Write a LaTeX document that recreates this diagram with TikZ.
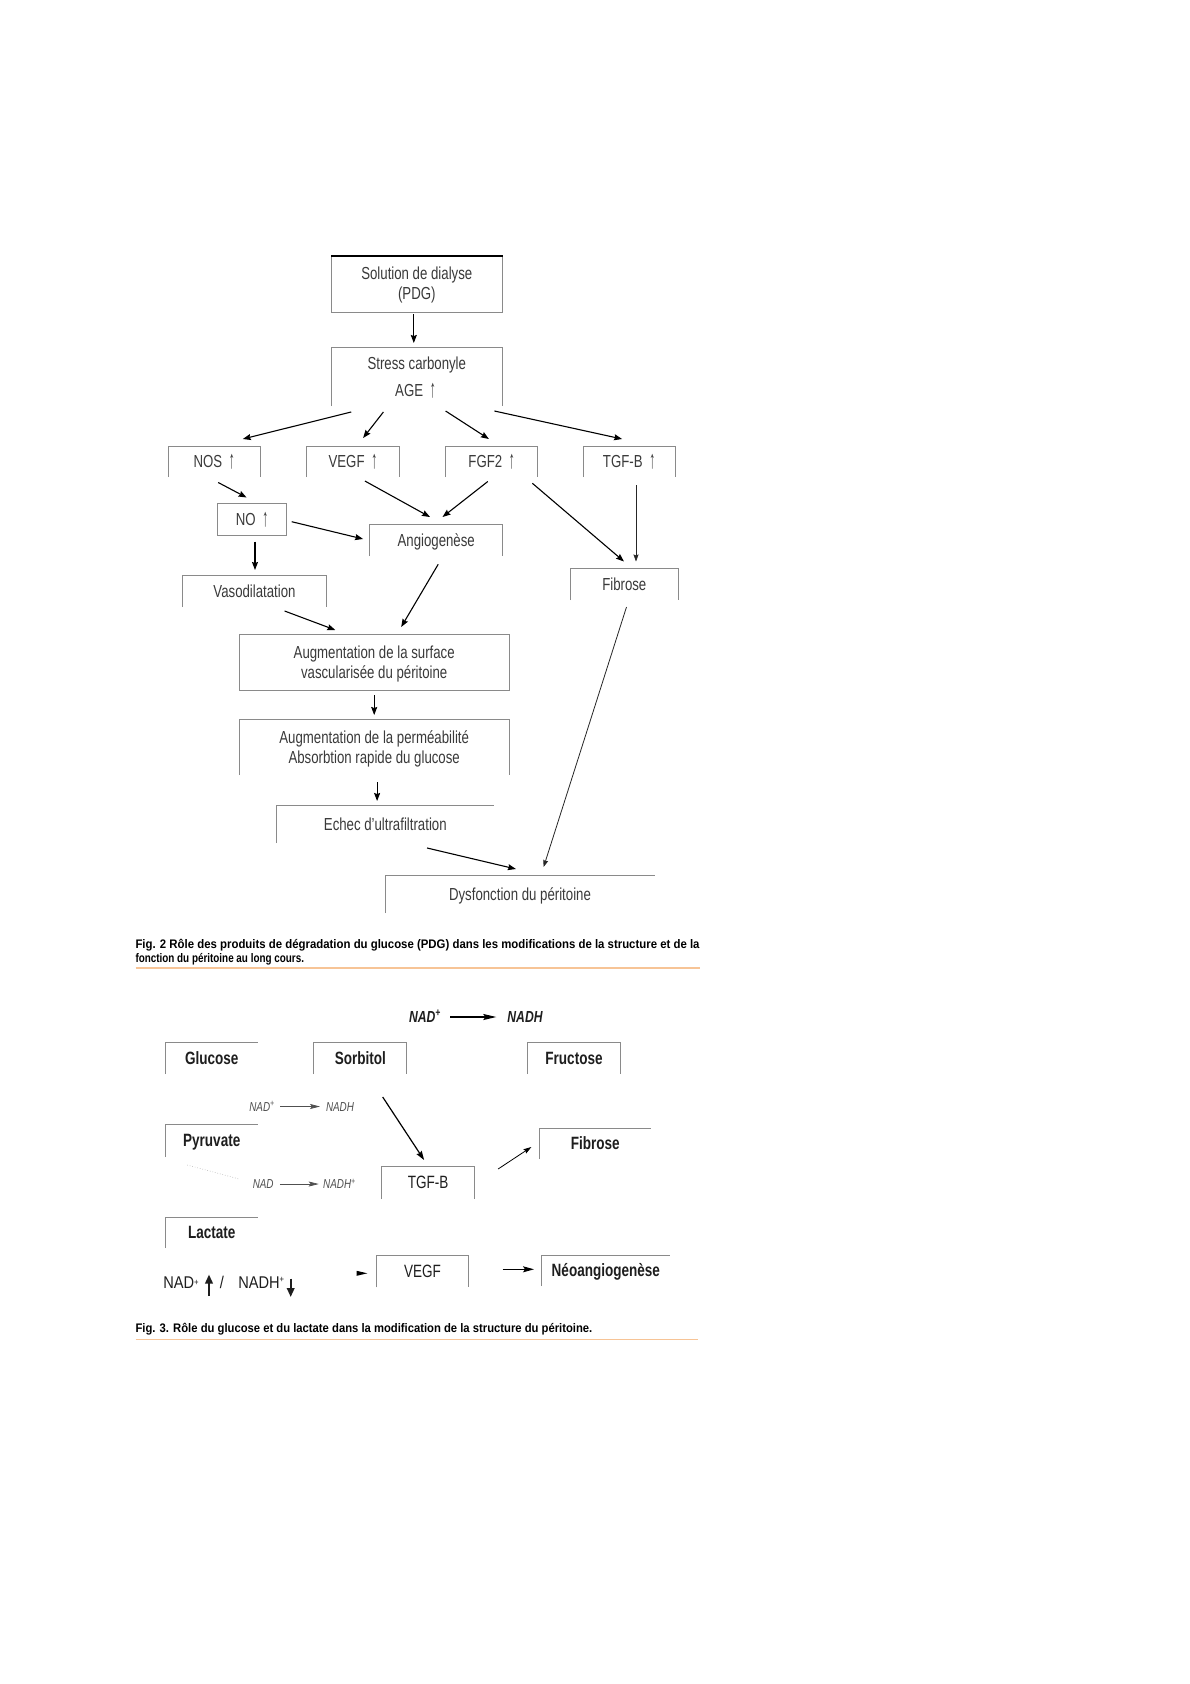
\documentclass[tikz,border=0pt]{standalone}
\usepackage{fontspec}
\setmainfont{Liberation Sans}[FakeStretch=0.76]
\newfontfamily\wideF{Liberation Sans}[FakeStretch=0.86]
\usepackage{graphicx}
\usetikzlibrary{arrows.meta}
\definecolor{txt}{HTML}{3A3A3A}
\definecolor{txtb}{HTML}{1E1E1E}
\definecolor{linegray}{HTML}{8A8A8A}
\definecolor{nadgray}{HTML}{505050}
\definecolor{capline}{RGB}{247,196,150}
\newcommand\labf{\fontsize{17.4}{20}\selectfont}
\newcommand\blabf{\fontsize{17.8}{20}\selectfont\bfseries}
\newcommand\rlabf{\fontsize{17.8}{20}\selectfont}
\newcommand\nadbig{\fontsize{16}{18}\selectfont\bfseries\itshape}
\newcommand\nadsm{\fontsize{13}{15}\selectfont\itshape}
\newcommand\capf{\fontsize{12.4}{14}\selectfont\bfseries}
\newcommand\up{\hspace{3pt}\raisebox{-1pt}{\scalebox{0.9}[1.45]{↑}}}
\newcommand\boxU[1]{\draw[boxline] (#1.south west) -- (#1.north west) -- (#1.north east) -- (#1.south east);}
\newcommand\boxL[1]{\draw[boxline] (#1.south west) -- (#1.north west) -- (#1.north east);}
\newcommand\boxF[1]{\draw[boxline] (#1.south west) rectangle (#1.north east);}
\tikzset{
  lab/.style={inner sep=0pt, outer sep=0pt, font=\labf, text=txt, text height=12pt, text depth=0pt},
  blab/.style={inner sep=0pt, outer sep=0pt, font=\blabf, text=txtb, text height=12.3pt, text depth=0pt},
  rlab/.style={inner sep=0pt, outer sep=0pt, font=\rlabf, text=txtb, text height=12.3pt, text depth=0pt},
  nadb/.style={inner sep=0pt, outer sep=0pt, font=\nadbig, text=txtb, text height=11pt, text depth=0pt},
  nads/.style={inner sep=0pt, outer sep=0pt, font=\nadsm, text=nadgray, text height=9pt, text depth=0pt},
  capn/.style={inner sep=0pt, outer sep=0pt, anchor=west, text=black, text height=8.6pt, text depth=0pt},
  boxline/.style={draw=linegray, line width=0.9pt},
  arr/.style={-{Stealth[length=8pt,width=6pt,inset=1pt]}, line width=1.1pt, black},
  arrthin/.style={-{Stealth[length=7pt,width=5pt,inset=1pt]}, line width=0.6pt, black!85},
  arrN/.style={-{Stealth[length=11pt,width=6pt,inset=2pt]}, line width=1pt, black},
  arrS/.style={-{Stealth[length=10pt,width=5pt,inset=2pt]}, line width=0.7pt, nadgray},
  bigarr/.style={-{Triangle[length=9pt,width=7.5pt]}, line width=2pt, txtb},
}
\begin{document}
\begin{tikzpicture}[x=1pt,y=-1pt]
\useasboundingbox (0,0) rectangle (1190,1684);
\fill[white] (0,0) rectangle (1190,1684);

% ---------------- Fig. 2 ----------------
\node[lab, minimum width=171.6pt, minimum height=56pt] (sol) at (416.8,284) {};
\node[lab] (solA) at (416.8,273) {Solution de dialyse};
\node[lab] (solB) at (416.8,293) {(PDG)};
\boxF{sol}
\draw[line width=1.6pt, black] (sol.north west) -- (sol.north east);

\node[lab, minimum width=171.6pt, minimum height=59pt] (stress) at (416.8,376.5) {};
\node[lab] (stressA) at (416.8,363) {Stress carbonyle};
\node[lab] (stressB) at (415.5,390) {AGE \up};
\boxU{stress}

\node[lab, minimum width=92.1pt, minimum height=31pt] (nos) at (214.2,461.5) {NOS \up};
\node[lab, minimum width=92.2pt, minimum height=31pt] (vegf) at (352.9,461.5) {VEGF \up};
\node[lab, minimum width=92.1pt, minimum height=31pt] (fgf) at (491.7,461.5) {FGF2 \up};
\node[lab, minimum width=91.8pt, minimum height=31pt] (tgf) at (629.1,461.5) {TGF-B \up};
\boxU{nos}\boxU{vegf}\boxU{fgf}\boxU{tgf}

\node[lab, minimum width=69pt, minimum height=32pt] (no) at (252,519.5) {NO \up};
\boxF{no}
\node[lab, minimum width=132.9pt, minimum height=32pt] (angio) at (436.2,540) {Angiogenèse};
\boxU{angio}
\node[lab, minimum width=143.2pt, minimum height=32pt] (vaso) at (254.5,591) {Vasodilatation};
\boxU{vaso}
\node[lab, minimum width=108pt, minimum height=32pt] (fib) at (624.3,584) {Fibrose};
\boxU{fib}

\node[lab, minimum width=270.1pt, minimum height=56pt] (aug1) at (374.2,662) {};
\node[lab] (aug1A) at (374.2,652) {Augmentation de la surface};
\node[lab] (aug1B) at (374.2,672) {vascularisée du péritoine};
\boxF{aug1}
\node[lab, minimum width=270.1pt, minimum height=56pt] (aug2) at (374.2,747) {};
\node[lab] (aug2A) at (374.2,737) {Augmentation de la perméabilité};
\node[lab] (aug2B) at (374.2,757) {Absorbtion rapide du glucose};
\boxU{aug2}
\node[lab, minimum width=216.8pt, minimum height=38pt] (echec) at (385.3,824) {Echec d’ultrafiltration};
\boxL{echec}
\node[lab, minimum width=269.3pt, minimum height=38pt] (dysf) at (520,894) {Dysfonction du péritoine};
\boxL{dysf}

% arrow end points
\coordinate (a1s) at (413.8,314);   \coordinate (a1e) at (413.8,343);
\coordinate (a2s) at (351.2,412);   \coordinate (a2e) at (242.8,439);
\coordinate (a3s) at (383.4,412);   \coordinate (a3e) at (363.1,438);
\coordinate (a4s) at (445.6,411);   \coordinate (a4e) at (488.9,439);
\coordinate (a5s) at (494.4,411);   \coordinate (a5e) at (622.1,439);
\coordinate (a6s) at (218.2,482.5); \coordinate (a6e) at (246.6,497.5);
\coordinate (a7s) at (291.7,521.7); \coordinate (a7e) at (363.1,539);
\coordinate (a8s) at (364.9,481);   \coordinate (a8e) at (430,517);
\coordinate (a9s) at (487.8,481.5); \coordinate (a9e) at (442.5,517);
\coordinate (a10s) at (532.4,483.3);\coordinate (a10e) at (624,561.5);
\coordinate (a11s) at (636,485);    \coordinate (a11e) at (636,561.5);
\coordinate (a12s) at (255,541.7);  \coordinate (a12e) at (255,570);
\coordinate (a13s) at (438.2,564.3);\coordinate (a13e) at (401.2,627);
\coordinate (a14s) at (284.6,611);  \coordinate (a14e) at (335.3,630);
\coordinate (a15s) at (374.2,695);  \coordinate (a15e) at (374.2,715);
\coordinate (a16s) at (377.1,782);  \coordinate (a16e) at (377.1,801);
\coordinate (a17s) at (427.1,848);  \coordinate (a17e) at (515.9,869);
\coordinate (a18s) at (626.5,607);  \coordinate (a18e) at (543.6,867);

\draw[arr] (a1s) -- (a1e);
\draw[arr] (a2s) -- (a2e);
\draw[arr] (a3s) -- (a3e);
\draw[arr] (a4s) -- (a4e);
\draw[arr] (a5s) -- (a5e);
\draw[arr] (a6s) -- (a6e);
\draw[arr] (a7s) -- (a7e);
\draw[arr] (a8s) -- (a8e);
\draw[arr] (a9s) -- (a9e);
\draw[arr] (a10s) -- (a10e);
\draw[arrthin] (a11s) -- (a11e);
\draw[arr] (a12s) -- (a12e);
\draw[arr] (a13s) -- (a13e);
\draw[arr] (a14s) -- (a14e);
\draw[arr, line width=0.8pt] (a15s) -- (a15e);
\draw[arr] (a16s) -- (a16e);
\draw[arr] (a17s) -- (a17e);
\draw[arrthin, line width=0.8pt] (a18s) -- (a18e);

% caption fig 2
\node[capn] (cap2a) at (135.5,944) {\resizebox{564pt}{\height}{\capf Fig. 2 Rôle des produits de dégradation du glucose (PDG) dans les modifications de la structure et de la}};
\node[capn] (cap2b) at (135.5,958) {\resizebox{168.5pt}{\height}{\capf fonction du péritoine au long cours.}};
\draw[capline, line width=1.6pt] (135.5,968) -- (699.7,968);

% ---------------- Fig. 3 ----------------
\node[nadb] (nadT1) at (425,1017) {NAD\textsuperscript{+}};
\node[nadb] (nadT2) at (525,1017) {NADH};
\coordinate (t1s) at (450,1017); \coordinate (t1e) at (496.3,1017);
\draw[arrN, line width=1.2pt, -{Stealth[length=13pt,width=6pt,inset=2pt]}] (t1s) -- (t1e);

\node[blab, minimum width=91.7pt, minimum height=32pt] (glu) at (211.75,1058) {Glucose};
\boxL{glu}
\node[blab, minimum width=92.8pt, minimum height=32pt] (sorb) at (360.3,1058) {Sorbitol};
\boxU{sorb}
\node[blab, minimum width=92.5pt, minimum height=32pt] (fruc) at (574,1058) {Fructose};
\boxU{fruc}

\node[nads] (nadS1) at (262,1106.7) {NAD\textsuperscript{+}};
\node[nads] (nadS2) at (340,1106.7) {NADH};
\coordinate (s1s) at (280,1106.5); \coordinate (s1e) at (320,1106.5);
\draw[arrS] (s1s) -- (s1e);

\node[blab, minimum width=91.7pt, minimum height=33pt] (pyr) at (211.75,1140.5) {Pyruvate};
\boxL{pyr}
\coordinate (d1s) at (187.3,1165); \coordinate (d1e) at (239.1,1179);
\draw[linegray!70, line width=0.6pt, dotted] (d1s) -- (d1e);

\node[nads] (nadS3) at (263.2,1184) {NAD};
\node[nads] (nadS4) at (339.5,1184) {NADH\textsuperscript{+}};
\coordinate (s2s) at (279.8,1184); \coordinate (s2e) at (318.7,1184);
\draw[arrS] (s2s) -- (s2e);

\node[rlab, minimum width=93.2pt, minimum height=33pt] (tgfb) at (428.2,1182.5) {TGF-B};
\boxU{tgfb}
\node[blab, minimum width=111.4pt, minimum height=31pt] (fib3) at (595.2,1143.5) {Fibrose};
\boxL{fib3}

\coordinate (b1s) at (382.7,1097); \coordinate (b1e) at (424.1,1160);
\coordinate (b2s) at (498.1,1169); \coordinate (b2e) at (531.4,1147);
\draw[arr, line width=1.2pt, -{Stealth[length=9pt,width=6pt,inset=1pt]}] (b1s) -- (b1e);
\draw[arr, line width=0.8pt, -{Stealth[length=8pt,width=5pt,inset=1pt]}] (b2s) -- (b2e);

\node[blab, minimum width=91.7pt, minimum height=31pt] (lact) at (211.75,1232.5) {Lactate};
\boxL{lact}

\node[rlab, anchor=west, font={\fontsize{17}{20}\selectfont\wideF}, text height=11.6pt] (nadL1) at (163.3,1282.5) {NAD{\fontsize{9}{9}\selectfont\raisebox{2.5pt}{+}}};
\coordinate (u1s) at (209,1296); \coordinate (u1e) at (209,1274.5);
\draw[bigarr] (u1s) -- (u1e);
\node[rlab, font={\fontsize{17}{20}\selectfont\wideF}, text height=11.6pt] (slash) at (222,1282.5) {/};
\node[rlab, anchor=west, font={\fontsize{17}{20}\selectfont\wideF}, text height=11.6pt] (nadL2) at (238.3,1282.5) {NADH{\fontsize{9}{9}\selectfont\raisebox{6pt}{+}}};
\coordinate (u2s) at (290.7,1278.5); \coordinate (u2e) at (290.7,1297);
\draw[bigarr] (u2s) -- (u2e);

\coordinate (h1) at (356.7,1270.8); \coordinate (h2) at (367.3,1273.3); \coordinate (h3) at (356.7,1275.8);
\fill[black] (h1) -- (h2) -- (h3) -- cycle;

\node[rlab, minimum width=91.6pt, minimum height=31.6pt] (vegf3) at (422.5,1271.5) {VEGF};
\boxU{vegf3}
\node[blab, minimum width=128.3pt, minimum height=31pt] (neo) at (605.85,1270.5) {Néoangiogenèse};
\boxL{neo}
\coordinate (b3s) at (502.7,1269.3); \coordinate (b3e) at (534,1269.3);
\draw[arrN] (b3s) -- (b3e);

% caption fig 3
\node[capn] (cap3) at (135.5,1328) {\resizebox{456.8pt}{\height}{\capf Fig. 3. Rôle du glucose et du lactate dans la modification de la structure du péritoine.}};
\draw[capline, line width=1.6pt] (135.5,1339.3) -- (698.3,1339.3);
\end{tikzpicture}
\end{document}
